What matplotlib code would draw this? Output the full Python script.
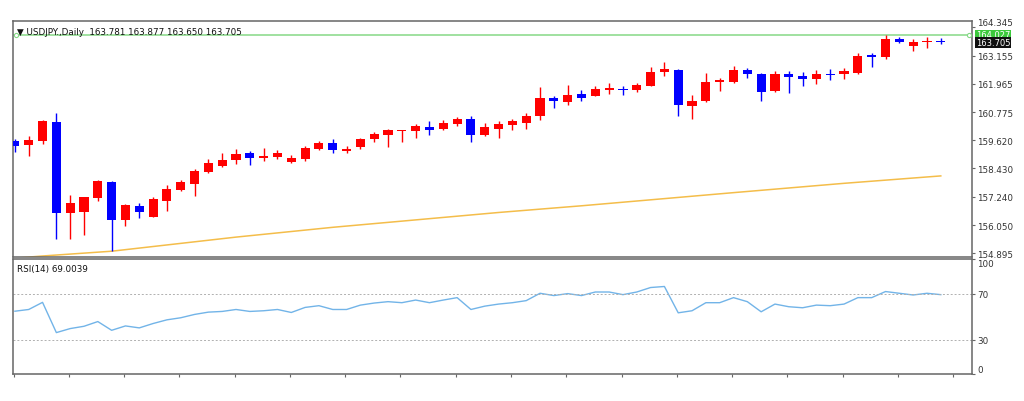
import numpy as np
import matplotlib
matplotlib.use("Agg")
from matplotlib import pyplot as plt

# daily USDJPY candles (red = up, blue = down)
opens = [159.57, 159.40, 159.60, 160.38, 156.55, 156.62, 157.19, 157.87, 156.28, 156.87,
         156.42, 157.07, 157.53, 157.80, 158.30, 158.53, 158.77, 159.06, 158.87, 158.92,
         158.70, 158.81, 159.26, 159.51, 159.16, 159.32, 159.65, 159.85, 159.98, 159.99,
         160.16, 160.10, 160.31, 160.52, 159.85, 160.09, 160.27, 160.35, 160.62, 161.37,
         161.22, 161.55, 161.48, 161.70, 161.77, 161.70, 161.90, 162.47, 162.56, 161.03,
         161.25, 162.03, 162.05, 162.56, 162.38, 161.66, 162.40, 162.28, 162.17, 162.40,
         162.40, 162.42, 163.19, 163.09, 163.85, 163.56, 163.72, 163.781]
highs = [159.65, 159.81, 160.45, 160.76, 157.31, 157.25, 157.95, 157.91, 156.94, 156.98,
         157.22, 157.73, 157.94, 158.42, 158.81, 159.09, 159.26, 159.16, 159.30, 159.20,
         158.99, 159.37, 159.57, 159.65, 159.37, 159.72, 159.97, 160.09, 160.06, 160.31,
         160.41, 160.44, 160.59, 160.62, 160.34, 160.41, 160.48, 160.77, 161.82, 161.48,
         161.94, 161.73, 161.87, 162.01, 161.87, 162.01, 162.67, 162.87, 162.59, 161.52,
         162.42, 162.22, 162.73, 162.65, 162.42, 162.49, 162.49, 162.45, 162.56, 162.59,
         162.63, 163.26, 163.28, 164.02, 163.95, 163.84, 163.95, 163.877]
lows = [159.12, 158.95, 159.44, 155.48, 155.48, 155.65, 157.07, 154.99, 156.01, 156.38,
        156.40, 156.66, 157.49, 157.26, 158.26, 158.49, 158.63, 158.56, 158.74, 158.81,
        158.67, 158.74, 159.20, 159.09, 159.09, 159.26, 159.53, 159.34, 159.53, 159.72,
        159.85, 160.06, 160.20, 159.53, 159.81, 159.69, 160.03, 160.09, 160.44, 160.97,
        161.10, 161.24, 161.45, 161.55, 161.52, 161.63, 161.87, 162.31, 160.62, 160.48,
        161.20, 161.66, 162.01, 162.22, 161.25, 161.63, 161.59, 161.90, 161.98, 162.15,
        162.19, 162.38, 162.66, 163.01, 163.67, 163.35, 163.49, 163.650]
closes = [159.37, 159.62, 160.41, 156.55, 156.98, 157.22, 157.91, 156.28, 156.90, 156.59,
          157.15, 157.59, 157.87, 158.32, 158.65, 158.78, 159.05, 158.88, 158.95, 159.06,
          158.85, 159.30, 159.51, 159.19, 159.26, 159.65, 159.88, 160.06, 160.03, 160.20,
          160.06, 160.34, 160.52, 159.85, 160.17, 160.31, 160.41, 160.62, 161.38, 161.26,
          161.52, 161.38, 161.76, 161.80, 161.70, 161.94, 162.47, 162.59, 161.07, 161.27,
          162.05, 162.12, 162.56, 162.40, 161.62, 162.40, 162.24, 162.19, 162.38, 162.35,
          162.52, 163.12, 163.09, 163.84, 163.74, 163.74, 163.78, 163.705]

# moving average, read at a few candles along the orange line
ma_idx = [0, 2, 7, 16, 23, 35, 41, 52, 60, 67]
ma_val = [154.68, 154.77, 154.97, 155.56, 155.97, 156.59, 156.87, 157.42, 157.81, 158.12]

rsi = [54.6, 56.1, 62.3, 36.0, 39.5, 41.5, 45.6, 38.0, 41.8, 40.1,
       43.9, 47.1, 48.9, 51.8, 53.8, 54.4, 56.1, 54.4, 55.0, 56.1,
       53.5, 57.9, 59.4, 56.1, 56.1, 59.9, 61.7, 62.9, 62.0, 64.3,
       62.0, 64.3, 66.4, 56.1, 59.0, 60.8, 62.0, 63.8, 70.2, 68.2,
       69.9, 68.2, 71.3, 71.3, 69.0, 71.3, 75.2, 76.1, 53.2, 55.0,
       62.0, 62.0, 66.4, 62.9, 54.1, 60.8, 58.5, 57.6, 59.9, 59.4,
       60.8, 66.4, 66.4, 71.7, 70.2, 68.7, 70.2, 69.0]

price_ticks = [164.345, 163.155, 161.965, 160.775, 159.620, 158.430, 157.240, 156.050, 154.895]
rsi_ticks = [100, 70, 30, 0]
level_line = 164.027
title = "\u25bc USDJPY.,Daily  163.781 163.877 163.650 163.705"
rsi_title = "RSI(14) 69.0039"

UP = "#ff0000"
DOWN = "#0000ff"
FRAME = "#666666"


def style_axis(ax):
    for s in ax.spines.values():
        s.set_color(FRAME)
        s.set_linewidth(1.1)
    ax.yaxis.tick_right()
    ax.tick_params(axis="y", direction="out", length=2, width=0.8, colors=FRAME,
                   labelsize=6.3, labelcolor="#333333", pad=1.5)
    ax.set_facecolor("white")


def main():
    fig = plt.figure(figsize=(10.24, 4.02), dpi=100)
    ax = fig.add_axes([13.3 / 1024, 1 - 258 / 402, 959 / 1024, 236 / 402])
    ax2 = fig.add_axes([13.3 / 1024, 1 - 375 / 402, 959 / 1024, 115 / 402])

    idx = np.arange(len(opens))
    o = np.array(opens)
    c = np.array(closes)
    colors = [UP if cc >= oo else DOWN for oo, cc in zip(o, c)]

    # candles
    ax.vlines(idx, lows, highs, colors=colors, linewidth=1.0, zorder=2)
    bottoms = np.minimum(o, c)
    heights = np.maximum(np.abs(c - o), 0.035)
    ax.bar(idx, heights, bottom=bottoms, width=0.66, color=colors, linewidth=0, zorder=3)

    ax.plot(ma_idx, ma_val, color="#f4bd4a", linewidth=1.1, zorder=1)

    # horizontal level
    ax.axhline(level_line, color="#86d886", linewidth=1.1, zorder=1)
    ax.plot([0.05, 69.05], [level_line, level_line], "o", ms=3, mfc="white",
            mec="#86d886", mew=0.8, clip_on=False, zorder=4)

    xlim = (-0.116, 69.28)
    ax.set_xlim(*xlim)
    ax.set_ylim(154.728, 164.60)
    ax.set_xticks([])
    ax.set_yticks(price_ticks)
    ax.set_yticklabels([f"{v:.3f}" for v in price_ticks])
    style_axis(ax)
    # top label sits just above the green level box, as in the terminal
    ax.get_yticklabels()[0].set_va("bottom")

    ax.text(0.004, 0.975, title, transform=ax.transAxes, fontsize=6.3, va="top",
            ha="left", color="#111111")

    yt = ax.get_yaxis_transform()
    ax.text(1.0035, level_line, f"{level_line:.3f}", transform=yt, fontsize=6.0,
            color="white", va="center", ha="left", clip_on=False, zorder=6,
            bbox=dict(boxstyle="square,pad=0.08", fc="#3cc93c", ec="none"))
    ax.text(1.0035, closes[-1], f"{closes[-1]:.3f}", transform=yt, fontsize=6.0,
            color="white", va="center", ha="left", clip_on=False, zorder=6,
            bbox=dict(boxstyle="square,pad=0.08", fc="#111111", ec="none"))

    # RSI panel
    ax2.plot(idx, rsi, color="#72b4e8", linewidth=1.0)
    for lvl in (70, 30):
        ax2.axhline(lvl, color="#b0b0b0", linewidth=0.7, linestyle=(0, (2, 2)))
    ax2.set_xlim(*xlim)
    ax2.set_ylim(0, 100)
    ax2.set_yticks(rsi_ticks)
    ax2.set_yticklabels([str(v) for v in rsi_ticks])
    style_axis(ax2)
    labels = ax2.get_yticklabels()
    labels[0].set_va("top")
    labels[-1].set_va("bottom")
    ax2.set_xticks(np.arange(0, 69, 4) - 0.1)
    ax2.set_xticklabels([])
    ax2.tick_params(axis="x", direction="out", length=2.5, width=0.8, colors=FRAME)
    ax2.text(0.004, 0.96, rsi_title, transform=ax2.transAxes, fontsize=6.3,
             va="top", ha="left", color="#111111")

    fig.savefig("out.png", dpi=100, facecolor="white")


if __name__ == "__main__":
    main()
